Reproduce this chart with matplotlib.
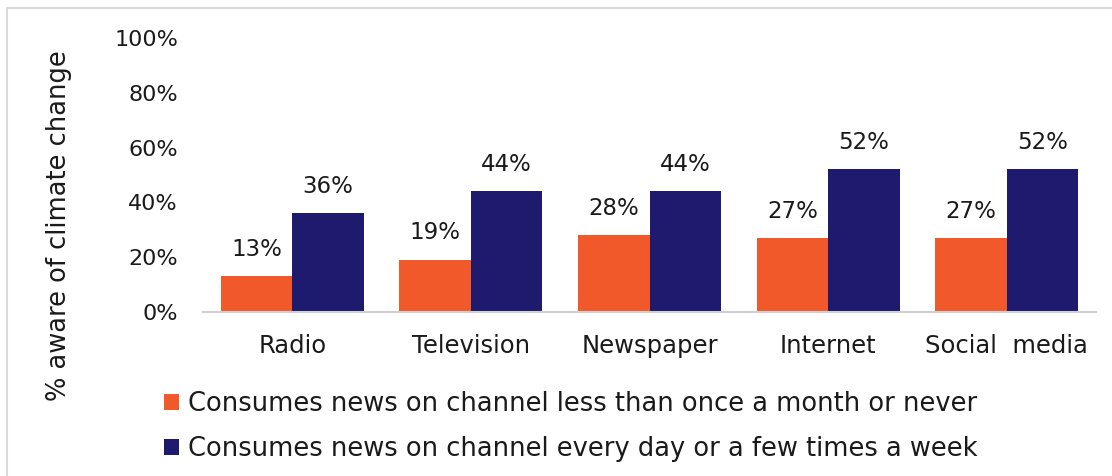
import matplotlib
matplotlib.use("Agg")
import matplotlib.pyplot as plt
from matplotlib.patches import Rectangle
import numpy as np

# --- Data ---
channels = ["Radio", "Television", "Newspaper", "Internet", "Social  media"]
rarely = [13, 19, 28, 27, 27]
often = [36, 44, 44, 52, 52]
series_labels = [
    "Consumes news on channel less than once a month or never",
    "Consumes news on channel every day or a few times a week",
]
yticks = [0, 20, 40, 60, 80, 100]

orange = "#F1592A"
navy = "#1E1B6E"
text_color = "#1a1a1a"

plt.rcParams["font.family"] = ["DejaVu Sans"]

fig = plt.figure(figsize=(11.12, 4.76), dpi=100)
ax = fig.add_axes([0.1826, 0.345, 0.803, 0.575])

x = np.arange(len(channels))
w = 0.4
b1 = ax.bar(x - w / 2, rarely, w, color=orange, label=series_labels[0])
b2 = ax.bar(x + w / 2, often, w, color=navy, label=series_labels[1])

for bars, vals in [(b1, rarely), (b2, often)]:
    for rect, v in zip(bars, vals):
        ax.annotate(f"{v}%", (rect.get_x() + rect.get_width() / 2, v),
                    xytext=(0, 11), textcoords="offset points",
                    ha="center", va="bottom", fontsize=16.5, color=text_color)

ax.set_xlim(-0.5, len(channels) - 0.5)
ax.set_ylim(0, 100)
ax.set_yticks(yticks)
ax.set_yticklabels([f"{t}%" for t in yticks], fontsize=16, color=text_color)
ax.set_xticks(x)
ax.set_xticklabels(channels, fontsize=17.5, color=text_color)
ax.tick_params(axis="both", length=0)
ax.tick_params(axis="y", pad=18)
ax.tick_params(axis="x", pad=16)

for s in ["top", "right", "left"]:
    ax.spines[s].set_visible(False)
ax.spines["bottom"].set_color("#D0D0D0")
ax.spines["bottom"].set_linewidth(1.5)

fig.text(0.053, 0.527, "% aware of climate change", rotation=90,
         ha="center", va="center", fontsize=18.5, color=text_color)

leg = fig.legend(handles=[b1, b2], labels=series_labels,
                 loc="upper left", bbox_to_anchor=(0.138, 0.2),
                 frameon=False, fontsize=18.5, handlelength=0.6, handleheight=0.6,
                 handletextpad=0.35, labelspacing=0.75, borderaxespad=0)
for t in leg.get_texts():
    t.set_color(text_color)

# outer chart frame (partially visible)
fig.patches.append(Rectangle((7 / 1112, -0.1), 1.2, 1.1 - 8 / 476,
                             transform=fig.transFigure, fill=False,
                             edgecolor="#D9D9D9", linewidth=1.5))

fig.savefig("out.png", dpi=100)
